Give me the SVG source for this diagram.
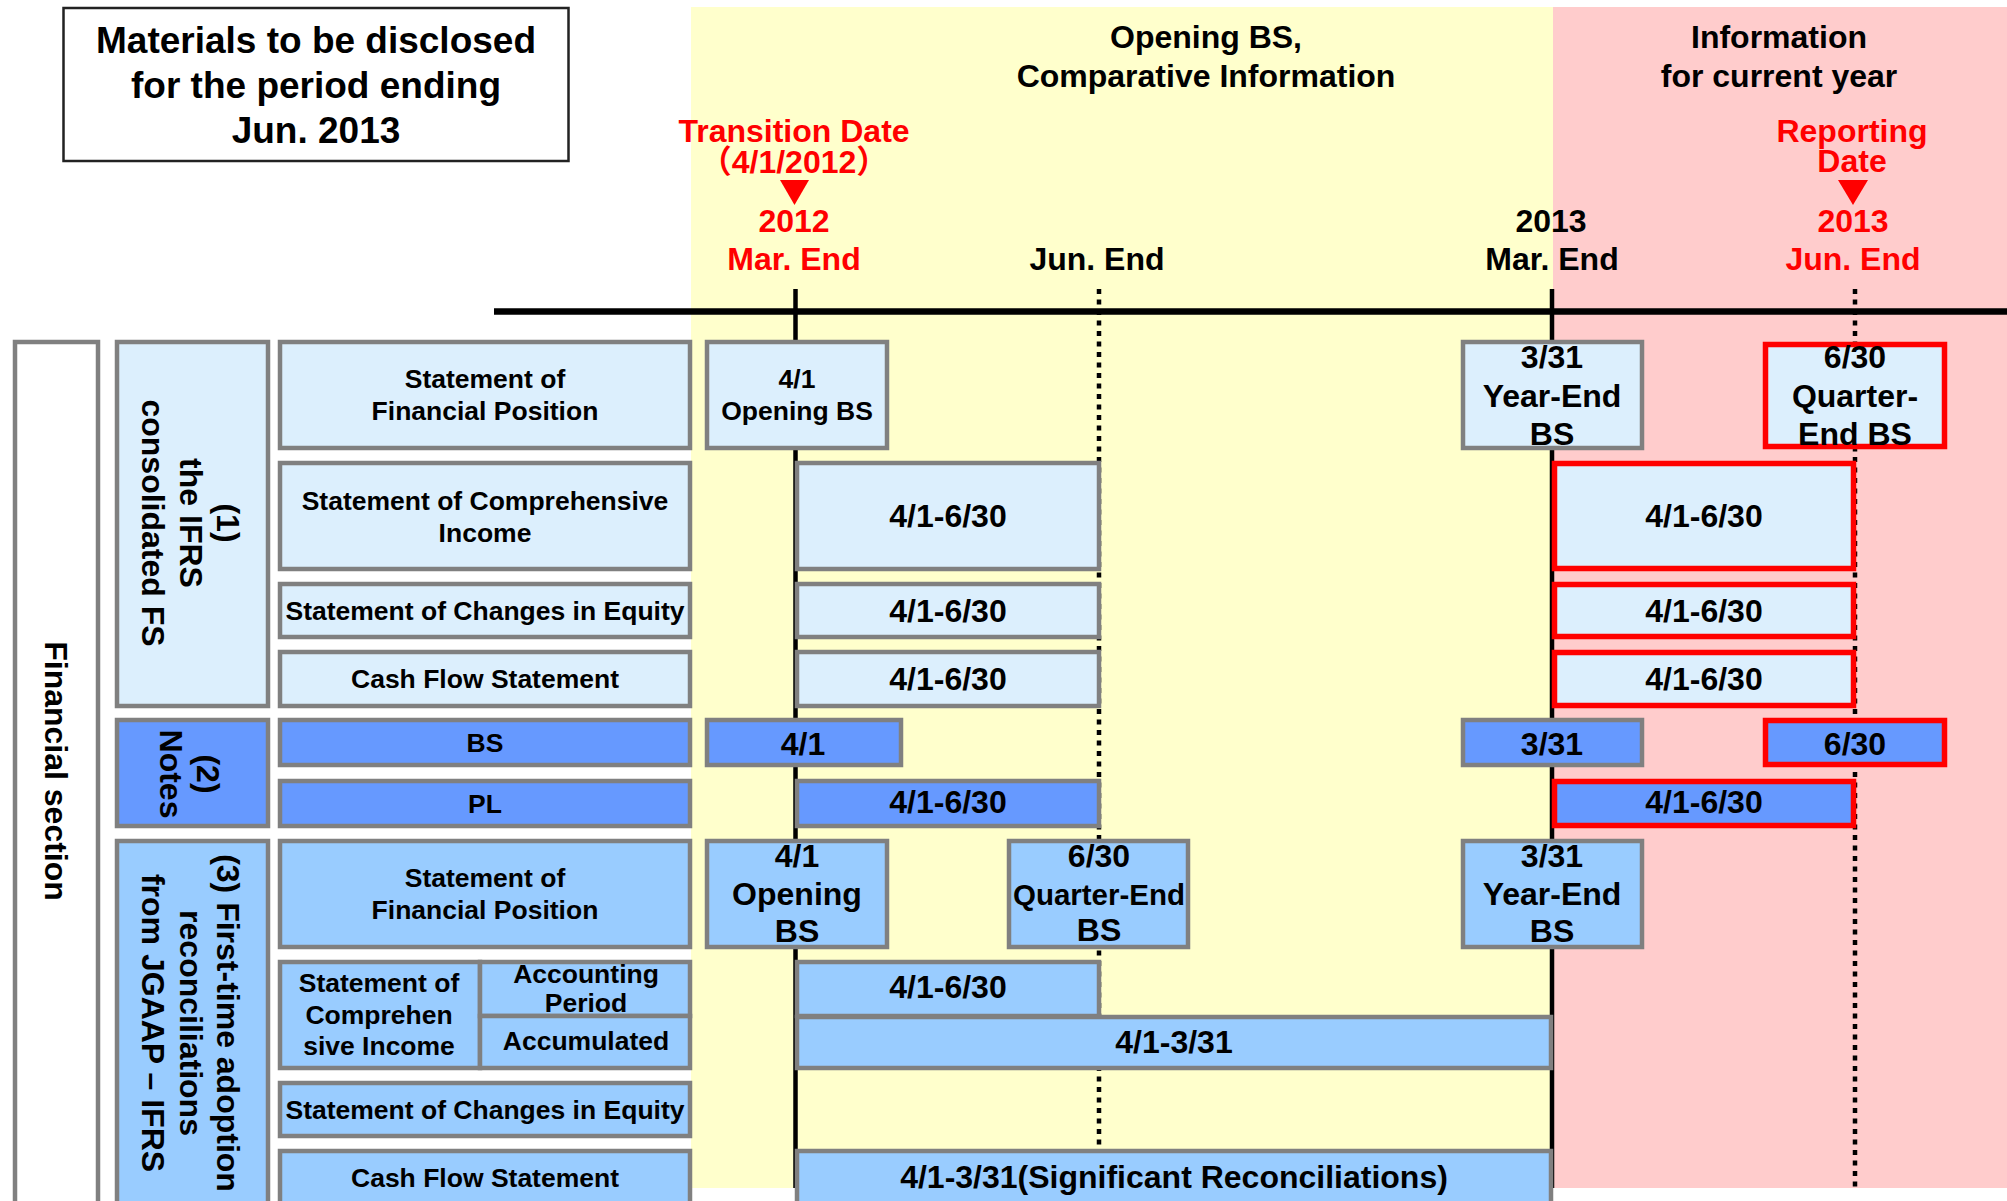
<svg xmlns="http://www.w3.org/2000/svg" width="2007" height="1201" viewBox="0 0 2007 1201">
<style>
.t{font-family:"Liberation Sans",Arial,"Noto Sans CJK JP",sans-serif;font-weight:bold;text-anchor:middle;fill:#000}
.r{fill:#FF0000}
.f26{font-size:26.5px}.f30{font-size:32px}.f32{font-size:32px}.f36{font-size:37px}.fq{font-size:29.5px}
.g{stroke:#808080;stroke-width:4.5}
.rd{stroke:#FF0000;stroke-width:5.5}
.lb{fill:#DCEFFD}.mb{fill:#6699FF}.sb{fill:#99CCFF}.wb{fill:#FFFFFF}
.solid{stroke:#000;stroke-width:4.5;fill:none}
.dot{stroke:#000;stroke-width:4.5;stroke-dasharray:5 5.5;fill:none}
</style>
<rect width="2007" height="1201" fill="#FFFFFF"/>
<g id="shading">
<rect x="691" y="7" width="862" height="1181" fill="#FFFFCC"/>
<rect x="1553" y="7" width="454" height="1181" fill="#FFCCCC"/>
</g>
<g id="header">
<g id="title">
<rect x="63.5" y="8" width="505" height="153" fill="#FFFFFF" stroke="#222" stroke-width="2.5"/>
<text class="t f36" x="316" y="53">Materials to be disclosed</text>
<text class="t f36" x="316" y="98">for the period ending</text>
<text class="t f36" x="316" y="143">Jun. 2013</text>
</g>
<g id="hdr-comparative">
<text class="t f30" x="1206" y="48">Opening BS,</text>
<text class="t f30" x="1206" y="87">Comparative Information</text>
</g>
<g id="hdr-current">
<text class="t f30" x="1779" y="48">Information</text>
<text class="t f30" x="1779" y="87">for current year</text>
</g>
<g id="mark-transition">
<text class="t f30 r" x="794" y="142">Transition Date</text>
<text class="t f30 r" x="794" y="173">（4/1/2012）</text>
<polygon points="780,180 809,180 794.5,205" fill="#FF0000"/>
<text class="t f30 r" x="794" y="232">2012</text>
<text class="t f30 r" x="794" y="270">Mar. End</text>
</g>
<g id="mark-jun2012">
<text class="t f30" x="1097" y="270">Jun. End</text>
</g>
<g id="mark-mar2013">
<text class="t f30" x="1551" y="232">2013</text>
<text class="t f30" x="1552" y="270">Mar. End</text>
</g>
<g id="mark-reporting">
<text class="t f30 r" x="1852" y="142">Reporting</text>
<text class="t f30 r" x="1852" y="172">Date</text>
<polygon points="1838,180 1868,180 1853,205" fill="#FF0000"/>
<text class="t f30 r" x="1853" y="232">2013</text>
<text class="t f30 r" x="1853" y="270">Jun. End</text>
</g>
</g>
<g id="connectors">
<line x1="494" y1="311.5" x2="2007" y2="311.5" stroke="#000" stroke-width="6.5"/>
<line class="solid" x1="795.5" y1="289" x2="795.5" y2="1188"/>
<line class="dot" x1="1099" y1="289" x2="1099" y2="1188"/>
<line class="solid" x1="1552" y1="289" x2="1552" y2="1188"/>
<line class="dot" x1="1855" y1="289" x2="1855" y2="1188"/>
</g>
<g id="group-financial">
<rect class="g wb" x="15" y="342" width="83" height="880"/>
<text class="t f32" transform="translate(45,771) rotate(90)">Financial section</text>
</g>
<g id="group-1">
<rect class="g lb" x="117" y="342" width="151" height="364"/>
<text class="t f32" transform="translate(180,523) rotate(90)"><tspan x="0" y="-37">(1)</tspan><tspan x="0" y="0">the IFRS</tspan><tspan x="0" y="38">consolidated FS</tspan></text>
</g>
<g id="group-2">
<rect class="g mb" x="117" y="720" width="151" height="106"/>
<text class="t f32" transform="translate(197,774) rotate(90)"><tspan x="0" y="0">(2)</tspan><tspan x="0" y="37">Notes</tspan></text>
</g>
<g id="group-3">
<rect class="g sb" x="117" y="841" width="151" height="380"/>
<text class="t f32" transform="translate(180,1023) rotate(90)"><tspan x="0" y="-37">(3) First-time adoption</tspan><tspan x="0" y="0">reconciliations</tspan><tspan x="0" y="38">from JGAAP – IFRS</tspan></text>
</g>
<g id="label-sfp1">
<rect class="g lb" x="280" y="342" width="410" height="106"/>
<text class="t f26" x="485" y="388">Statement of</text>
<text class="t f26" x="485" y="420">Financial Position</text>
</g>
<g id="label-sci1">
<rect class="g lb" x="280" y="463" width="410" height="106"/>
<text class="t f26" x="485" y="510">Statement of Comprehensive</text>
<text class="t f26" x="485" y="542">Income</text>
</g>
<g id="label-sce1">
<rect class="g lb" x="280" y="584" width="410" height="53"/>
<text class="t f26" x="485" y="620">Statement of Changes in Equity</text>
</g>
<g id="label-cfs1">
<rect class="g lb" x="280" y="652" width="410" height="54"/>
<text class="t f26" x="485" y="688">Cash Flow Statement</text>
</g>
<g id="label-bs">
<rect class="g mb" x="280" y="720" width="410" height="45"/>
<text class="t f26" x="485" y="752">BS</text>
</g>
<g id="label-pl">
<rect class="g mb" x="280" y="781" width="410" height="45"/>
<text class="t f26" x="485" y="813">PL</text>
</g>
<g id="label-sfp3">
<rect class="g sb" x="280" y="841" width="410" height="106"/>
<text class="t f26" x="485" y="887">Statement of</text>
<text class="t f26" x="485" y="919">Financial Position</text>
</g>
<g id="label-sci3">
<rect class="g sb" x="280" y="962" width="200" height="106"/>
<text class="t f26" x="379" y="992">Statement of</text>
<text class="t f26" x="379" y="1024">Comprehen</text>
<text class="t f26" x="379" y="1055">sive Income</text>
</g>
<g id="label-sci3-period">
<rect class="g sb" x="480" y="962" width="210" height="54"/>
<text class="t f26" x="586" y="983">Accounting</text>
<text class="t f26" x="586" y="1012">Period</text>
</g>
<g id="label-sci3-accum">
<rect class="g sb" x="480" y="1016" width="210" height="52"/>
<text class="t f26" x="586" y="1050">Accumulated</text>
</g>
<g id="label-sce3">
<rect class="g sb" x="280" y="1083" width="410" height="53"/>
<text class="t f26" x="485" y="1119">Statement of Changes in Equity</text>
</g>
<g id="label-cfs3">
<rect class="g sb" x="280" y="1151" width="410" height="80"/>
<text class="t f26" x="485" y="1187">Cash Flow Statement</text>
</g>
<g id="sfp1-opening">
<rect class="g lb" x="707" y="342" width="180" height="106"/>
<text class="t f26" x="797" y="388">4/1</text>
<text class="t f26" x="797" y="420">Opening BS</text>
</g>
<g id="sfp1-yearend">
<rect class="g lb" x="1463" y="342" width="179" height="106"/>
<text class="t f30" x="1552" y="368">3/31</text>
<text class="t f30" x="1552" y="407">Year-End</text>
<text class="t f30" x="1552" y="445">BS</text>
</g>
<g id="sfp1-quarterend">
<rect class="rd lb" x="1765.5" y="344.5" width="179" height="102"/>
<text class="t f30" x="1855" y="368">6/30</text>
<text class="t f30" x="1855" y="407">Quarter-</text>
<text class="t f30" x="1855" y="445">End BS</text>
</g>
<g id="sci1-prior">
<rect class="g lb" x="797" y="463" width="302" height="106"/>
<text class="t f30" x="948" y="527">4/1-6/30</text>
</g>
<g id="sci1-current">
<rect class="rd lb" x="1554.5" y="463.5" width="299" height="105"/>
<text class="t f30" x="1704" y="527">4/1-6/30</text>
</g>
<g id="sce1-prior">
<rect class="g lb" x="797" y="584" width="302" height="53"/>
<text class="t f30" x="948" y="622">4/1-6/30</text>
</g>
<g id="sce1-current">
<rect class="rd lb" x="1554.5" y="584.5" width="299" height="52"/>
<text class="t f30" x="1704" y="622">4/1-6/30</text>
</g>
<g id="cfs1-prior">
<rect class="g lb" x="797" y="652" width="302" height="54"/>
<text class="t f30" x="948" y="690">4/1-6/30</text>
</g>
<g id="cfs1-current">
<rect class="rd lb" x="1554.5" y="652.5" width="299" height="53"/>
<text class="t f30" x="1704" y="690">4/1-6/30</text>
</g>
<g id="bs-opening">
<rect class="g mb" x="707" y="720" width="194" height="45"/>
<text class="t f30" x="803" y="755">4/1</text>
</g>
<g id="bs-yearend">
<rect class="g mb" x="1463" y="720" width="179" height="45"/>
<text class="t f30" x="1552" y="755">3/31</text>
</g>
<g id="bs-quarterend">
<rect class="rd mb" x="1765.5" y="720.5" width="179" height="44"/>
<text class="t f30" x="1855" y="755">6/30</text>
</g>
<g id="pl-prior">
<rect class="g mb" x="797" y="781" width="302" height="45"/>
<text class="t f30" x="948" y="813">4/1-6/30</text>
</g>
<g id="pl-current">
<rect class="rd mb" x="1554.5" y="781.5" width="299" height="44"/>
<text class="t f30" x="1704" y="813">4/1-6/30</text>
</g>
<g id="sfp3-opening">
<rect class="g sb" x="707" y="841" width="180" height="106"/>
<text class="t f30" x="797" y="867">4/1</text>
<text class="t f30" x="797" y="905">Opening</text>
<text class="t f30" x="797" y="942">BS</text>
</g>
<g id="sfp3-quarterend">
<rect class="g sb" x="1009" y="841" width="179" height="106"/>
<text class="t f30" x="1099" y="867">6/30</text>
<text class="t fq" x="1099" y="905">Quarter-End</text>
<text class="t f30" x="1099" y="941">BS</text>
</g>
<g id="sfp3-yearend">
<rect class="g sb" x="1463" y="841" width="179" height="106"/>
<text class="t f30" x="1552" y="867">3/31</text>
<text class="t f30" x="1552" y="905">Year-End</text>
<text class="t f30" x="1552" y="942">BS</text>
</g>
<g id="sci3-period">
<rect class="g sb" x="797" y="962" width="302" height="54"/>
<text class="t f30" x="948" y="998">4/1-6/30</text>
</g>
<g id="sci3-accum">
<rect class="g sb" x="797" y="1017" width="754" height="51"/>
<text class="t f30" x="1174" y="1053">4/1-3/31</text>
</g>
<g id="cfs3-recon">
<rect class="g sb" x="797" y="1151" width="754" height="80"/>
<text class="t f30" x="1174" y="1188">4/1-3/31(Significant Reconciliations)</text>
</g>
</svg>
